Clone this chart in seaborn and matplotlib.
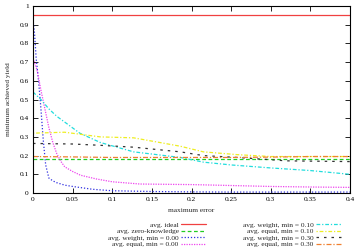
import matplotlib
matplotlib.use("Agg")
import matplotlib.pyplot as plt
import seaborn as sns
import pandas as pd

sns.set_theme(style="ticks")
plt.rcParams['font.family'] = ['Liberation Serif', 'DejaVu Serif']

# ---- data ----
ideal_x = [0.0, 0.4]
ideal_y = [0.952, 0.952]

zero_x = [0.0, 0.1, 0.2, 0.3, 0.4]
zero_y = [0.18, 0.18, 0.18, 0.18, 0.18]

w00_x = [0, 0.002, 0.004, 0.007, 0.01, 0.013, 0.016, 0.02, 0.025, 0.03, 0.04, 0.05,
         0.075, 0.1, 0.15, 0.2, 0.25, 0.3, 0.35, 0.4]
w00_y = [0.93, 0.85, 0.72, 0.60, 0.45, 0.28, 0.15, 0.08, 0.065, 0.055, 0.042, 0.035,
         0.02, 0.012, 0.008, 0.006, 0.005, 0.005, 0.005, 0.005]

e00_x = [0, 0.005, 0.01, 0.015, 0.02, 0.025, 0.03, 0.035, 0.04, 0.05, 0.06, 0.08,
         0.1, 0.135, 0.2, 0.25, 0.3, 0.35, 0.4]
e00_y = [0.72, 0.66, 0.55, 0.45, 0.35, 0.27, 0.21, 0.17, 0.14, 0.115, 0.095, 0.075,
         0.06, 0.048, 0.045, 0.04, 0.035, 0.032, 0.03]

w10_x = [0, 0.01, 0.02, 0.03, 0.043, 0.059, 0.085, 0.127, 0.186, 0.215, 0.25, 0.3, 0.35, 0.4]
w10_y = [0.54, 0.50, 0.45, 0.41, 0.37, 0.32, 0.27, 0.22, 0.19, 0.165, 0.15, 0.134, 0.12, 0.10]

e10_x = [0, 0.04, 0.085, 0.127, 0.16, 0.186, 0.215, 0.258, 0.3, 0.35, 0.4]
e10_y = [0.32, 0.325, 0.30, 0.295, 0.27, 0.25, 0.22, 0.205, 0.195, 0.195, 0.195]

w30_x = [0, 0.05, 0.085, 0.127, 0.186, 0.215, 0.258, 0.32, 0.4]
w30_y = [0.265, 0.262, 0.255, 0.245, 0.22, 0.20, 0.19, 0.172, 0.168]

e30_x = [0, 0.05, 0.1, 0.15, 0.2, 0.25, 0.3, 0.35, 0.4]
e30_y = [0.195, 0.193, 0.19, 0.19, 0.19, 0.19, 0.192, 0.195, 0.195]

labels = ["avg. ideal", "avg. zero-knowledge", "avg. weight, min = 0.00",
          "avg. equal, min = 0.00", "avg. weight, min = 0.10", "avg. equal, min = 0.10",
          "avg. weight, min = 0.30", "avg. equal, min = 0.30"]

series = [
    (ideal_x, ideal_y, "#f04040", "-"),
    (zero_x, zero_y, "#22cc22", (0, (3, 2))),
    (w00_x, w00_y, "#3030e0", (0, (1, 1.5))),
    (e00_x, e00_y, "#ee44ee", (0, (1, 1))),
    (w10_x, w10_y, "#22dddd", (0, (3, 1.5, 1, 1.5))),
    (e10_x, e10_y, "#eeee22", (0, (1, 1.5, 3, 1.5))),
    (w30_x, w30_y, "#333333", (0, (2, 4))),
    (e30_x, e30_y, "#f08030", (0, (4, 1.5, 1, 1.5))),
]

fig = plt.figure(figsize=(3.55, 2.52), dpi=100)
ax = fig.add_axes([33/355, 1-193/252, 317/355, 187/252])

for (xs, ys, c, ls), lab in zip(series, labels):
    df = pd.DataFrame({"x": xs, "y": ys})
    sns.lineplot(data=df, x="x", y="y", ax=ax, color=c, linestyle=ls,
                 linewidth=0.9, label=lab)

ax.set_xlim(0, 0.4)
ax.set_ylim(0, 1)
ax.set_xticks([0, 0.05, 0.1, 0.15, 0.2, 0.25, 0.3, 0.35, 0.4])
ax.set_xticklabels(["0", "0.05", "0.1", "0.15", "0.2", "0.25", "0.3", "0.35", "0.4"])
ax.set_yticks([i/10 for i in range(11)])
ax.set_yticklabels(["0", "0.1", "0.2", "0.3", "0.4", "0.5", "0.6", "0.7", "0.8", "0.9", "1"])
ax.tick_params(direction="in", length=3.5, width=0.6, labelsize=5.3, top=True, right=True,
               pad=3, colors="black")
for s in ax.spines.values():
    s.set_linewidth(0.8)
    s.set_color("black")
ax.set_xlabel("maximum error", fontsize=5.3, labelpad=4)
ax.set_ylabel("minimum achieved yield", fontsize=5.3, labelpad=6)

ax.legend(loc="upper center", bbox_to_anchor=(0.632, 1-218/252), bbox_transform=fig.transFigure,
          ncol=2, frameon=False, fontsize=5.3, markerfirst=False, handlelength=3.4,
          handletextpad=0.3, columnspacing=5.0, labelspacing=0.05, borderpad=0)

fig.savefig("out.png", dpi=100)
